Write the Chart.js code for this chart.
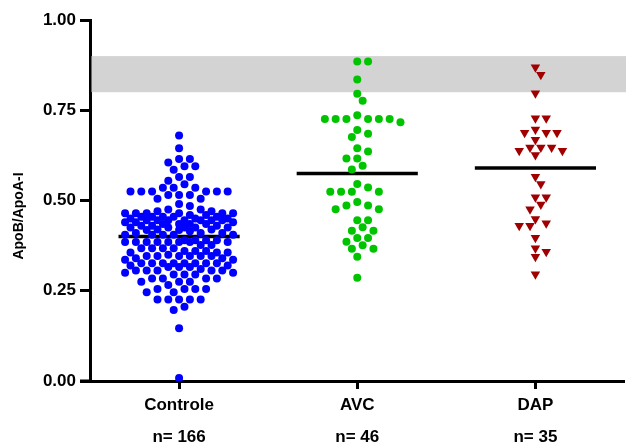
<!DOCTYPE html>
<html>
<head>
<meta charset="utf-8">
<script src="https://cdn.jsdelivr.net/npm/chart.js@4.4.1/dist/chart.umd.min.js"></script>
<style>
  html, body { margin: 0; padding: 0; background: #fff; }
  #wrap { width: 630px; height: 445px; }
</style>
</head>
<body>
<div id="wrap"><canvas id="chart" width="630" height="445"></canvas></div>
<script>
// Donnees
const categories = ['Controle', 'AVC', 'DAP'];
const counts = ['n= 166', 'n= 46', 'n= 35'];
const yTicks = [0, 0.25, 0.5, 0.75, 1];
const refBand = [0.80, 0.90];
const centres = [0.40, 0.575, 0.59];

const controle = [
  0.68, 0.645, 0.615, 0.615, 0.605, 0.595, 0.595, 0.585, 0.565, 0.565, 0.555,
  0.545, 0.535, 0.535, 0.535,
  0.525, 0.525, 0.525, 0.525, 0.525, 0.525, 0.515, 0.515, 0.515, 0.505, 0.505,
  0.49, 0.485, 0.475, 0.475, 0.47, 0.47,
  0.465, 0.465, 0.465, 0.465, 0.465, 0.465, 0.46, 0.46,
  0.455, 0.455, 0.455, 0.455, 0.455, 0.45, 0.45, 0.45,
  0.445, 0.445, 0.445, 0.445, 0.445, 0.445, 0.445, 0.44, 0.44, 0.44,
  0.435, 0.435, 0.435, 0.435, 0.43, 0.43, 0.43,
  0.425, 0.425, 0.425, 0.425, 0.425, 0.42, 0.42,
  0.418, 0.418, 0.415, 0.41, 0.41, 0.41,
  0.405, 0.405, 0.405, 0.405, 0.405,
  0.39, 0.39, 0.39, 0.39,
  0.385, 0.385, 0.385, 0.385, 0.385, 0.385, 0.385, 0.385,
  0.377, 0.377, 0.368, 0.368, 0.368, 0.368, 0.36, 0.36, 0.36,
  0.356, 0.356, 0.356, 0.35,
  0.346, 0.346, 0.346, 0.346, 0.346, 0.346, 0.34, 0.34, 0.336, 0.336,
  0.326, 0.326, 0.326, 0.326, 0.326, 0.326, 0.326, 0.326, 0.32, 0.32,
  0.316, 0.316, 0.316, 0.31,
  0.306, 0.306, 0.306, 0.306, 0.306, 0.30, 0.30,
  0.295, 0.295, 0.295, 0.284, 0.284, 0.284, 0.284,
  0.275, 0.275, 0.275, 0.266,
  0.255, 0.255, 0.255, 0.255, 0.246, 0.246,
  0.226, 0.226, 0.226, 0.226, 0.226,
  0.206, 0.197, 0.146, 0.008
];

const avc = [
  0.885, 0.885, 0.835, 0.796, 0.776, 0.736,
  0.726, 0.726, 0.726, 0.726, 0.726, 0.726, 0.717,
  0.695, 0.685, 0.676, 0.645, 0.636, 0.616, 0.616, 0.596, 0.586,
  0.546, 0.536, 0.524, 0.524, 0.524, 0.524,
  0.496, 0.486, 0.486, 0.476, 0.476, 0.445, 0.445, 0.426, 0.416, 0.416,
  0.396, 0.396, 0.386, 0.376, 0.366, 0.366, 0.344, 0.286
];

const dap = [
  0.869, 0.848, 0.797, 0.728, 0.728, 0.697, 0.688, 0.688, 0.688, 0.668,
  0.647, 0.647, 0.647, 0.638, 0.638, 0.626,
  0.566, 0.546, 0.509, 0.509, 0.489, 0.476, 0.449, 0.437, 0.43, 0.43,
  0.397, 0.368, 0.358, 0.344, 0.296
];

const groups = [controle, avc, dap];
const colors = ['#0000ff', '#00c400', '#a00000'];

// disposition "beeswarm" bornee en largeur : si aucune place libre,
// on prend la position qui chevauche le moins
function swarm(values, toPx, step, diam, maxK) {
  const order = values.map((v, i) => i).sort((a, b) => values[b] - values[a]);
  const placed = [];
  const offsets = new Array(values.length).fill(0);
  order.forEach(i => {
    const y = toPx(values[i]);
    const cands = [0];
    for (let k = 1; k <= maxK; k++) cands.push(k * step, -k * step);
    let best = 0, bestD = -1, found = false;
    for (const c of cands) {
      let d = Infinity;
      placed.forEach(p => { d = Math.min(d, Math.hypot(p.x - c, p.y - y)); });
      if (d >= diam) { best = c; found = true; break; }
      if (d > bestD) { bestD = d; best = c; }
    }
    offsets[i] = best;
    placed.push({ x: best, y: y });
  });
  return offsets;
}

const bandPlugin = {
  id: 'band',
  beforeDatasetsDraw(chart) {
    const { ctx, chartArea, scales } = chart;
    const top = scales.y.getPixelForValue(refBand[1]);
    const bottom = scales.y.getPixelForValue(refBand[0]);
    ctx.save();
    ctx.fillStyle = '#d3d3d3';
    ctx.fillRect(chartArea.left + 1.5, top, chartArea.right - chartArea.left, bottom - top);
    ctx.restore();
  },
  afterDraw(chart) {
    const { ctx, chartArea } = chart;
    ctx.save();
    // petit bout de l'axe x a gauche de l'axe y
    ctx.strokeStyle = '#000';
    ctx.lineWidth = 3;
    ctx.beginPath();
    ctx.moveTo(chartArea.left - 10, chartArea.bottom);
    ctx.lineTo(chartArea.left, chartArea.bottom);
    ctx.stroke();
    // titre de l'axe y
    ctx.translate(19, 216);
    ctx.rotate(-Math.PI / 2);
    ctx.fillStyle = '#000';
    ctx.font = 'bold 14px "Liberation Sans", Arial, sans-serif';
    ctx.textAlign = 'center';
    ctx.textBaseline = 'middle';
    ctx.fillText('ApoB/ApoA-I', 0, 0);
    ctx.restore();
  }
};

const pointSets = groups.map((vals, g) => ({
  type: 'scatter',
  data: vals.map(v => ({ x: g, y: v })),
  backgroundColor: colors[g],
  borderWidth: 0,
  pointRadius: g === 2 ? 5.5 : 4,
  pointStyle: g === 2 ? 'triangle' : 'circle',
  rotation: g === 2 ? 180 : 0,
  order: 1
}));

const lineSets = centres.map((m, g) => ({
  type: 'line',
  data: [{ x: g - 0.34, y: m }, { x: g + 0.34, y: m }],
  borderColor: '#000',
  borderWidth: 3.5,
  pointRadius: 0,
  order: 2
}));

const fontTicks = { family: '"Liberation Sans", Arial, sans-serif', weight: 'bold', size: 17 };

const chart = new Chart(document.getElementById('chart'), {
  data: { datasets: [...pointSets, ...lineSets] },
  options: {
    responsive: false,
    animation: false,
    devicePixelRatio: 1,
    layout: { padding: { top: 20, right: 0, left: 0, bottom: 0 } },
    plugins: { legend: { display: false }, tooltip: { enabled: false } },
    scales: {
      x: {
        type: 'linear',
        min: -0.5,
        max: 2.5,
        afterBuildTicks: s => { s.ticks = [0, 1, 2].map(v => ({ value: v })); },
        afterFit: s => { s.height = 64; },
        ticks: {
          color: '#000',
          font: { ...fontTicks, lineHeight: 1.9 },
          padding: 0,
          callback: v => [categories[v], counts[v]]
        },
        grid: { drawOnChartArea: false, drawTicks: true, tickLength: 8, tickWidth: 3, color: '#000' },
        border: { color: '#000', width: 3 }
      },
      y: {
        min: 0,
        max: 1,
        afterBuildTicks: s => { s.ticks = yTicks.map(v => ({ value: v })); },
        afterFit: s => { s.width = 90; },
        ticks: {
          color: '#000',
          font: fontTicks,
          padding: 4,
          callback: v => v.toFixed(2)
        },
        grid: { drawOnChartArea: false, drawTicks: true, tickLength: 10, tickWidth: 3, color: '#000' },
        border: { color: '#000', width: 3 }
      }
    }
  },
  plugins: [bandPlugin]
});

// placer les points une fois les echelles connues
const xs = chart.scales.x, ys = chart.scales.y;
const pxPerX = xs.getPixelForValue(1) - xs.getPixelForValue(0);
groups.forEach((vals, g) => {
  const offs = swarm(vals, v => ys.getPixelForValue(v), 5.4, 8, 10);
  chart.data.datasets[g].data = vals.map((v, i) => ({ x: g + offs[i] / pxPerX, y: v }));
});
chart.update('none');
</script>
</body>
</html>
